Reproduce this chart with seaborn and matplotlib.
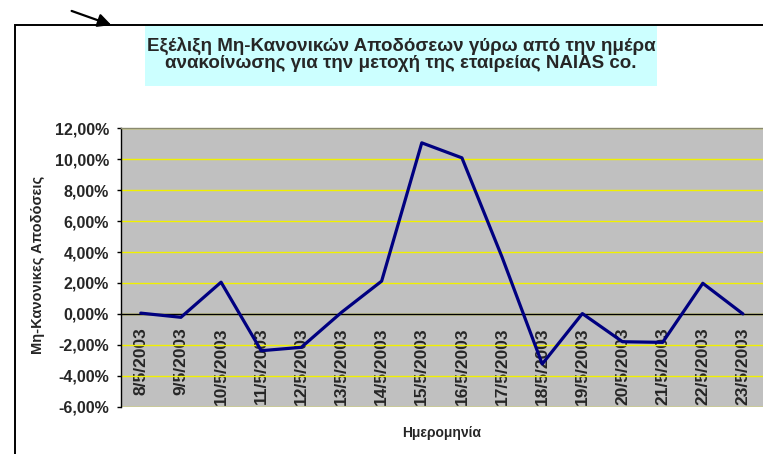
import numpy as np
import pandas as pd
import matplotlib
matplotlib.use("Agg")
import matplotlib.pyplot as plt
from matplotlib.patches import Rectangle, FancyArrowPatch
from matplotlib.ticker import FuncFormatter
import seaborn as sns

# data
dates = ["8/5/2003", "9/5/2003", "10/5/2003", "11/5/2003", "12/5/2003", "13/5/2003",
         "14/5/2003", "15/5/2003", "16/5/2003", "17/5/2003", "18/5/2003", "19/5/2003",
         "20/5/2003", "21/5/2003", "22/5/2003", "23/5/2003"]
abnormal_returns = [0.05, -0.22, 2.05, -2.38, -2.16, 0.10, 2.12, 11.06, 10.09, 3.67,
                    -3.24, 0.02, -1.80, -1.84, 1.98, 0.0]
y_ticks = [-6, -4, -2, 0, 2, 4, 6, 8, 10, 12]

title = "Εξέλιξη Μη-Κανονικών Αποδόσεων γύρω από την ημέρα\nανακοίνωσης για την μετοχή της εταιρείας NAIAS co."
ylabel = "Μη-Κανονικες Αποδόσεις"
xlabel = "Ημερομηνία"

df = pd.DataFrame({"pos": np.arange(len(dates)), "ret": abnormal_returns})

sns.set_style("white")
plt.rcParams['font.family'] = ['Liberation Sans', 'DejaVu Sans']
plt.rcParams['font.weight'] = 'bold'

W, H = 763, 454
fig = plt.figure(figsize=(W / 100, H / 100), dpi=100)
fig.patch.set_facecolor("white")

# outer chart frame (runs off right and bottom edges)
fig.patches.append(Rectangle((15 / W, -0.2), 1.3, 1 - 25 / H + 0.2, transform=fig.transFigure,
                             fill=False, edgecolor="black", lw=1.4, zorder=0))

# title box
fig.patches.append(Rectangle((145 / W, 1 - 86 / H), (657 - 145) / W, (86 - 26) / H,
                             transform=fig.transFigure, facecolor="#CCFFFF",
                             edgecolor="none", zorder=1))
fig.text(401 / W, 1 - 54.5 / H, title, ha="center", va="center", fontsize=13.5,
         fontweight="bold", linespacing=0.98, zorder=2)

# pointer arrow above the frame
fig.add_artist(FancyArrowPatch(
    (69 / W, 1 - 10 / H), (114 / W, 1 - 26 / H), transform=fig.transFigure,
    arrowstyle="-|>", mutation_scale=20, color="black", lw=1.6))

ax = fig.add_axes([120.7 / W, 1 - 406.7 / H, (W - 120.7) / W, (406.7 - 128.3) / H])
ax.set_facecolor("#C0C0C0")

sns.lineplot(data=df, x="pos", y="ret", ax=ax, color="#000080", lw=2.3, sort=False, zorder=3)

ax.set_xlim(-0.5, len(dates) - 0.5)
ax.set_ylim(y_ticks[0], y_ticks[-1])
ax.set_yticks(y_ticks)
ax.yaxis.set_major_formatter(FuncFormatter(lambda v, p: f"{v:.2f}%".replace(".", ",")))
ax.grid(axis="y", color="#F0F000", lw=1.0)
ax.set_axisbelow(True)

ax.spines["bottom"].set_position(("data", 0))
ax.spines["bottom"].set_color("black")
ax.spines["bottom"].set_linewidth(1.0)
ax.spines["left"].set_color("black")
ax.spines["left"].set_linewidth(1.0)
ax.spines["top"].set_color("#8a8a70")
ax.spines["top"].set_linewidth(1.0)
ax.spines["right"].set_visible(False)

ax.set_xticks(df["pos"])
ax.set_xticklabels(dates, rotation=90, fontsize=12.5, fontweight="bold", va="top")
ax.set_xticks(np.arange(-0.5, len(dates), 1), minor=True)
ax.tick_params(axis="x", which="major", length=0, pad=9.5)
ax.tick_params(axis="x", which="minor", length=3.6, width=1, color="black", direction="out")
ax.tick_params(axis="y", which="major", length=3, width=1, color="black", direction="out",
               left=True, pad=5.5, labelsize=11.5)

ax.set_xlabel("")
ax.set_ylabel("")
fig.text(38 / W, 1 - 265 / H, ylabel, rotation=90, ha="center", va="center",
         fontsize=10.5, fontweight="bold")
fig.text(442 / W, 1 - 433 / H, xlabel, ha="center", va="center",
         fontsize=10, fontweight="bold")

fig.savefig("out.png", dpi=100)
